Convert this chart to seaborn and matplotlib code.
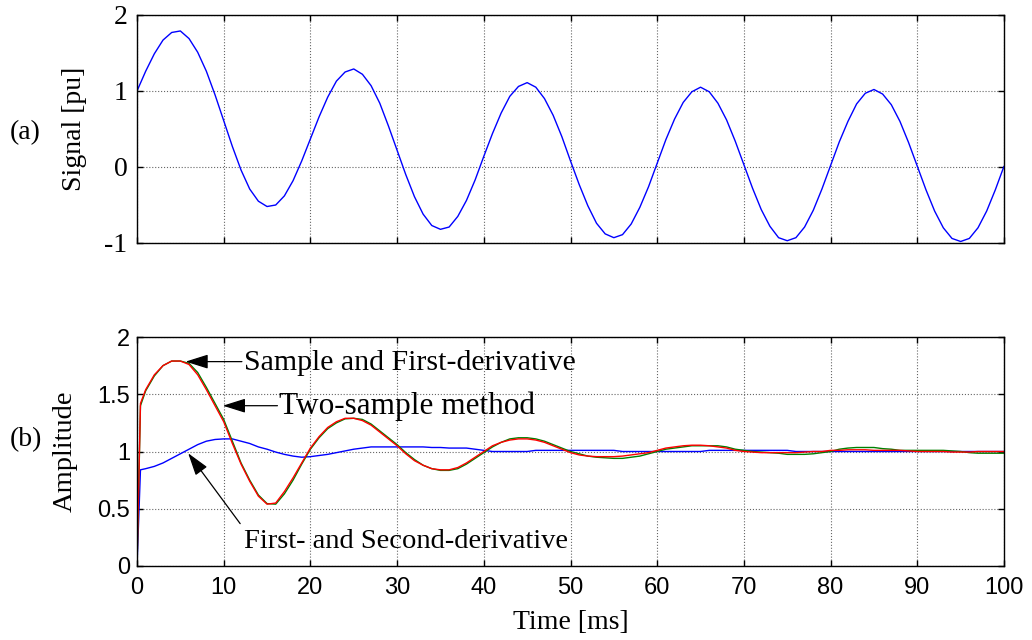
import matplotlib
matplotlib.use("Agg")
import matplotlib.pyplot as plt
import seaborn as sns
import numpy as np
import pandas as pd

# ---------------- data ----------------
t_sig = list(range(0, 101))  # ms
signal = [
    1.00, 1.26, 1.49, 1.67, 1.77, 1.79, 1.69, 1.51, 1.26, 0.95,
    0.61, 0.27, -0.04, -0.29, -0.45, -0.52, -0.50, -0.38, -0.18, 0.08,
    0.37, 0.66, 0.92, 1.13, 1.25, 1.29, 1.22, 1.07, 0.84, 0.54,
    0.22, -0.10, -0.39, -0.62, -0.77, -0.82, -0.79, -0.65, -0.44, -0.17,
    0.14, 0.44, 0.71, 0.93, 1.06, 1.11, 1.05, 0.90, 0.68, 0.40,
    0.08, -0.23, -0.51, -0.74, -0.88, -0.93, -0.89, -0.75, -0.53, -0.26,
    0.05, 0.36, 0.63, 0.85, 0.99, 1.05, 0.99, 0.84, 0.62, 0.34,
    0.03, -0.28, -0.56, -0.78, -0.93, -0.97, -0.93, -0.79, -0.57, -0.29,
    0.02, 0.33, 0.60, 0.83, 0.97, 1.02, 0.96, 0.82, 0.60, 0.32,
    0.01, -0.30, -0.58, -0.80, -0.94, -0.98, -0.94, -0.80, -0.58, -0.30,
    0.01,
]

t_amp = [0, 0.4] + list(range(1, 101))  # ms

amp_sample_first = [
    0.00, 1.42,
    1.54, 1.67, 1.75, 1.79, 1.79, 1.76, 1.67, 1.54, 1.40, 1.26,
    1.07, 0.89, 0.74, 0.61, 0.54, 0.55, 0.65, 0.77, 0.90, 1.03,
    1.13, 1.21, 1.26, 1.29, 1.29, 1.27, 1.23, 1.17, 1.11, 1.05,
    0.98, 0.92, 0.88, 0.85, 0.84, 0.84, 0.86, 0.90, 0.95, 1.00,
    1.05, 1.08, 1.10, 1.11, 1.11, 1.10, 1.08, 1.05, 1.02, 0.99,
    0.97, 0.96, 0.955, 0.955, 0.955, 0.96, 0.97, 0.98, 0.99, 1.01,
    1.03, 1.04, 1.05, 1.055, 1.055, 1.05, 1.04, 1.03, 1.01, 1.00,
    0.995, 0.99, 0.99, 0.99, 0.99, 0.99, 0.995, 1.00, 1.00, 1.01,
    1.01, 1.015, 1.015, 1.015, 1.01, 1.01, 1.01, 1.01, 1.005, 1.00,
    1.00, 1.00, 1.00, 0.995, 0.995, 0.995, 1.00, 1.00, 1.00, 1.00,
]

amp_two_sample = [
    0.00, 1.40,
    1.53, 1.66, 1.75, 1.79, 1.79, 1.77, 1.69, 1.56, 1.42, 1.28,
    1.09, 0.90, 0.75, 0.62, 0.545, 0.54, 0.63, 0.75, 0.89, 1.02,
    1.12, 1.20, 1.25, 1.285, 1.29, 1.28, 1.24, 1.18, 1.12, 1.06,
    0.99, 0.93, 0.88, 0.85, 0.835, 0.835, 0.85, 0.89, 0.94, 0.99,
    1.04, 1.08, 1.11, 1.12, 1.12, 1.11, 1.09, 1.06, 1.03, 1.00,
    0.98, 0.96, 0.95, 0.945, 0.94, 0.94, 0.95, 0.96, 0.98, 1.00,
    1.02, 1.03, 1.04, 1.05, 1.05, 1.05, 1.05, 1.04, 1.02, 1.01,
    1.00, 0.995, 0.99, 0.985, 0.975, 0.975, 0.975, 0.98, 0.99, 1.00,
    1.02, 1.03, 1.035, 1.035, 1.035, 1.025, 1.02, 1.01, 1.01, 1.01,
    1.01, 1.01, 1.01, 1.005, 1.00, 0.99, 0.985, 0.985, 0.985, 0.985,
]

amp_first_second = [
    0.00, 0.84,
    0.85, 0.87, 0.90, 0.94, 0.98, 1.02, 1.06, 1.09, 1.105, 1.11,
    1.11, 1.09, 1.07, 1.04, 1.02, 0.995, 0.975, 0.96, 0.95, 0.955,
    0.965, 0.975, 0.99, 1.005, 1.02, 1.03, 1.04, 1.04, 1.04, 1.04,
    1.04, 1.04, 1.04, 1.035, 1.035, 1.03, 1.03, 1.03, 1.02, 1.01,
    1.00, 1.00, 1.00, 1.00, 1.00, 1.01, 1.01, 1.01, 1.01, 1.01,
    1.01, 1.01, 1.01, 1.01, 1.01, 1.00, 1.00, 1.00, 1.00, 1.00,
    1.00, 1.00, 1.00, 1.00, 1.00, 1.01, 1.01, 1.01, 1.01, 1.01,
    1.01, 1.01, 1.01, 1.01, 1.01, 1.00, 1.00, 1.00, 1.00, 1.00,
    1.00, 1.00, 1.00, 1.00, 1.00, 1.00, 1.00, 1.00, 1.00, 1.00,
    1.00, 1.00, 1.00, 1.00, 1.00, 1.00, 1.00, 1.00, 1.00, 1.00,
]

x_ticks = [0, 10, 20, 30, 40, 50, 60, 70, 80, 90, 100]
y_ticks_a = [-1, 0, 1, 2]
y_ticks_b = [0, 0.5, 1, 1.5, 2]
y_ticklabels_b = ["0", "0.5", "1", "1.5", "2"]

labels = {
    "sf": "Sample and First-derivative",
    "ts": "Two-sample method",
    "fs": "First- and Second-derivative",
}

# ---------------- style ----------------
sns.set_style("ticks")
plt.rcParams["font.family"] = ["Liberation Serif", "DejaVu Serif"]
plt.rcParams["axes.unicode_minus"] = False
plt.rcParams["text.color"] = "black"
plt.rcParams["axes.labelcolor"] = "black"
plt.rcParams["xtick.color"] = "black"
plt.rcParams["ytick.color"] = "black"

SERIF = "Liberation Serif"
SANS = "Liberation Sans"

fig = plt.figure(figsize=(10.32, 6.4), dpi=100)
ax1 = fig.add_axes([137 / 1032, 1 - 243 / 640, 867 / 1032, 228 / 640])
ax2 = fig.add_axes([137 / 1032, 1 - 566 / 640, 867 / 1032, 229 / 640])

df_sig = pd.DataFrame({"t": t_sig, "s": signal})
sns.lineplot(data=df_sig, x="t", y="s", ax=ax1, color="#0000FF", lw=1.0,
             estimator=None, sort=False)

df_amp = pd.DataFrame({"t": t_amp, "sf": amp_sample_first,
                       "ts": amp_two_sample, "fs": amp_first_second})
sns.lineplot(data=df_amp, x="t", y="fs", ax=ax2, color="#0000FF", lw=1.0,
             estimator=None, sort=False)
sns.lineplot(data=df_amp, x="t", y="ts", ax=ax2, color="#008000", lw=1.0,
             estimator=None, sort=False)
sns.lineplot(data=df_amp, x="t", y="sf", ax=ax2, color="#FF0000", lw=1.0,
             estimator=None, sort=False)

for ax in (ax1, ax2):
    ax.set_xlim(0, 100)
    ax.set_xticks(x_ticks)
    ax.grid(True, linestyle=":", color="0.4", lw=0.8)
    ax.tick_params(direction="in", length=4, width=1, top=True, right=True,
                   colors="black")
    for sp in ax.spines.values():
        sp.set_visible(True)
        sp.set_color("black")
        sp.set_linewidth(1.0)
    ax.set_xlabel("")
    ax.set_ylabel("")

# top panel
ax1.set_ylim(-1, 2)
ax1.set_yticks(y_ticks_a)
ax1.set_yticklabels([str(v) for v in y_ticks_a], fontfamily=SERIF, fontsize=20)
ax1.tick_params(axis="y", pad=7)
ax1.set_xticklabels([])
ax1.set_ylabel("Signal [pu]", fontfamily=SERIF, fontsize=20, color="black")
ax1.yaxis.set_label_coords(-0.058, 0.5)

# bottom panel
ax2.set_ylim(0, 2)
ax2.set_yticks(y_ticks_b)
ax2.set_yticklabels(y_ticklabels_b, fontfamily=SANS, fontsize=17)
ax2.set_xticklabels([str(v) for v in x_ticks], fontfamily=SANS, fontsize=17)
ax2.tick_params(axis="y", pad=5)
ax2.tick_params(axis="x", pad=8)
ax2.set_ylabel("Amplitude", fontfamily=SERIF, fontsize=20.5, color="black")
ax2.yaxis.set_label_coords(-0.068, 0.5)
ax2.set_xlabel("Time [ms]", fontfamily=SERIF, fontsize=20, color="black")
ax2.xaxis.set_label_coords(0.5, -0.19)

# annotations
arrow = dict(arrowstyle="-|>,head_length=0.7,head_width=0.22", color="black",
             lw=0.9, shrinkA=0, shrinkB=0, mutation_scale=20)
ax2.text(12.3, 1.775, labels["sf"], fontfamily=SERIF, fontsize=21.5,
         va="center", ha="left", color="black")
ax2.annotate("", xy=(5.6, 1.785), xytext=(12.1, 1.785), arrowprops=arrow)
ax2.text(16.4, 1.395, labels["ts"], fontfamily=SERIF, fontsize=22.5,
         va="center", ha="left", color="black")
ax2.annotate("", xy=(9.9, 1.40), xytext=(16.2, 1.40), arrowprops=arrow)
ax2.text(12.3, 0.21, labels["fs"], fontfamily=SERIF, fontsize=20.5,
         va="center", ha="left", color="black")
ax2.annotate("", xy=(5.9, 0.985), xytext=(11.9, 0.37), arrowprops=arrow)

# panel tags
fig.text(10 / 1032, 1 - 133 / 640, "(a)", fontfamily=SERIF, fontsize=20,
         va="center", ha="left", color="black")
fig.text(10 / 1032, 1 - 440 / 640, "(b)", fontfamily=SERIF, fontsize=20,
         va="center", ha="left", color="black")

fig.savefig("out.png", dpi=100)
